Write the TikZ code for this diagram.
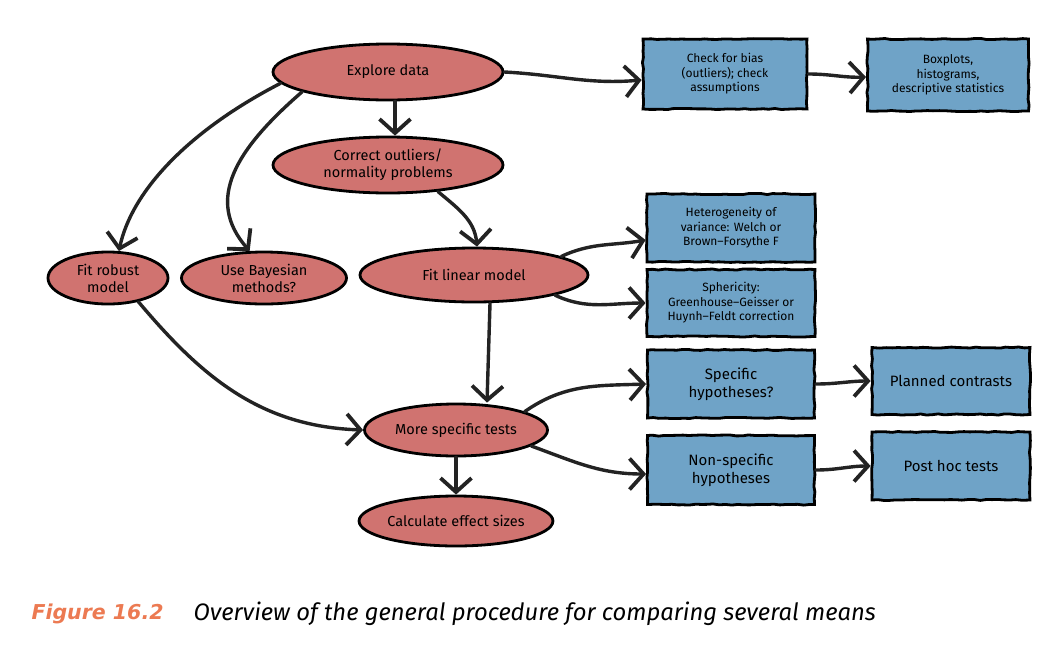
\documentclass[tikz,border=0pt]{standalone}
\usepackage{fontspec}
\setmainfont{Fira Sans}
\newfontfamily\figfont{DejaVu Sans}
\usetikzlibrary{shapes.geometric,arrows.meta,decorations.pathmorphing}
\definecolor{redfill}{RGB}{208,115,112}
\definecolor{bluefill}{RGB}{111,163,199}
\definecolor{arrowc}{RGB}{35,35,35}
\definecolor{figorange}{RGB}{236,122,82}
\begin{document}
\begin{tikzpicture}[x=1pt,y=-1pt,
  oval/.style={ellipse, draw=black, line width=2.8pt, fill=redfill, inner sep=0pt, align=center,
    font=\fontsize{14.5}{17}\selectfont},
  bluebox/.style={rectangle, draw=black, line width=2.8pt, fill=bluefill, inner sep=1pt, align=center,
    font=\fontsize{12}{14.5}\selectfont,
    decoration={random steps,segment length=6pt,amplitude=0.6pt}, decorate},
  bigtext/.style={font=\fontsize{15}{18}\selectfont},
  conn/.style={draw=arrowc, line width=3.4pt, line cap=round,
    -{Straight Barb[length=14pt,width=31pt,line width=3.8pt]}}
]
\useasboundingbox (0,0) rectangle (1052,646);

% ellipses
\node[oval, minimum width=230pt, minimum height=56pt] (explore) at (388,72) {Explore data};
\node[oval, minimum width=230pt, minimum height=56pt] (correct) at (388,165) {Correct outliers/\\normality problems};
\node[oval, minimum width=120pt, minimum height=52pt] (robust) at (108,278) {Fit robust\\model};
\node[oval, minimum width=165pt, minimum height=52pt] (bayes) at (264,278) {Use Bayesian\\methods?};
\node[oval, minimum width=228pt, minimum height=54pt] (linear) at (474,275) {Fit linear model};
\node[oval, minimum width=183pt, minimum height=52pt] (more) at (456,430) {More specific tests};
\node[oval, minimum width=183pt, minimum height=50pt] (calc) at (456,521) {Calculate effect sizes};

% boxes
\node[bluebox, minimum width=164pt, minimum height=70pt] (check) at (725,74) {Check for bias\\(outliers); check\\assumptions};
\node[bluebox, minimum width=161pt, minimum height=72pt] (boxplots) at (948,75) {Boxplots,\\histograms,\\descriptive statistics};
\node[bluebox, minimum width=168pt, minimum height=68pt] (hetero) at (731,228) {Heterogeneity of\\variance: Welch or\\Brown--Forsythe F};
\node[bluebox, minimum width=168pt, minimum height=67pt] (spher) at (731,303) {Sphericity:\\Greenhouse--Geisser or\\Huynh--Feldt correction};
\node[bluebox, bigtext, minimum width=167pt, minimum height=68pt] (spec) at (731,384) {Specific\\hypotheses?};
\node[bluebox, bigtext, minimum width=158pt, minimum height=67pt] (planned) at (951,381) {Planned contrasts};
\node[bluebox, bigtext, minimum width=167pt, minimum height=69pt] (nonspec) at (731,470) {Non-specific\\hypotheses};
\node[bluebox, bigtext, minimum width=158pt, minimum height=68pt] (posthoc) at (951,466) {Post hoc tests};

% connectors
\draw[conn] (explore.east) to[out=-3,in=185] ([yshift=-6pt]check.west);
\draw[conn] ([xshift=7pt]explore.south) -- ([xshift=7pt]correct.north);
\draw[conn] (explore.186) .. controls (190,130) and (132,190) .. (robust.68);
\draw[conn] (explore.193) .. controls (235,150) and (205,200) .. (bayes.118);
\draw[conn] (check.east) to[out=0,in=182] ([yshift=-2pt]boxplots.west);
\draw[conn] (correct.-28) to[out=-40,in=95] ([xshift=3pt]linear.north);
\draw[conn] (linear.12) to[out=25,in=190] ([yshift=-12pt]hetero.west);
\draw[conn] (linear.-14) to[out=-25,in=180] (spher.west);
\draw[conn] ([xshift=16pt]linear.south) -- ([xshift=31pt]more.north);
\draw[conn] (robust.-38) to[out=-50,in=178] (more.west);
\draw[conn] (more.15) to[out=35,in=182] (spec.west);
\draw[conn] (more.-12) to[out=-20,in=180] ([yshift=-4pt]nonspec.west);
\draw[conn] (spec.east) to[out=0,in=180] (planned.west);
\draw[conn] (nonspec.east) to[out=0,in=180] (posthoc.west);
\draw[conn] (more.south) -- (calc.north);

% caption
\node[anchor=west, text=figorange, font=\figfont\fontsize{20.5}{24}\selectfont\bfseries\itshape] (fig) at (28,614) {Figure 16.2};
\node[anchor=west, text=black, font=\fontsize{23.8}{27}\selectfont\itshape] (cap) at (190,614) {Overview of the general procedure for comparing several means};
\end{tikzpicture}
\end{document}
